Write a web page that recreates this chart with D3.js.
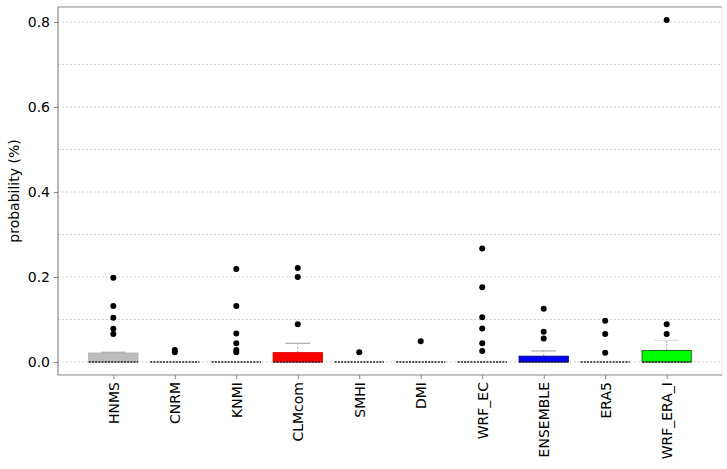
<!DOCTYPE html>
<html><head><meta charset="utf-8">
<script src="https://cdn.jsdelivr.net/npm/d3@7"></script>
<style>body{margin:0;background:#fff;} text{font-family:"DejaVu Sans",sans-serif;}</style>
</head><body>
<svg id="c" width="727" height="469"></svg>
<script>
const categories = ["HNMS","CNRM","KNMI","CLMcom","SMHI","DMI","WRF_EC","ENSEMBLE","ERA5","WRF_ERA_I"];
const boxColors = ["#bdbdbd","none","none","#ff0000","none","none","none","#0000ff","none","#00ff00"];
const boxStroke = ["#b0b0b0","none","none","#e00000","none","none","none","#00008b","none","#1a6b1a"];
const q1 = [0,0,0,0,0,0,0,0,0,0];
const medians = [0,0,0,0,0,0,0,0,0,0];
const q3 = [0.021,0,0,0.022,0,0,0,0.0135,0,0.027];
const whiskerHi = [0.023,0,0,0.044,0,0,0,0.026,0,0.051];
const outliers = [
  [0.198,0.132,0.104,0.078,0.066],
  [0.028,0.023],
  [0.219,0.132,0.067,0.044,0.028,0.023],
  [0.221,0.200,0.089],
  [0.023],
  [0.049],
  [0.267,0.176,0.105,0.079,0.044,0.026],
  [0.125,0.071,0.055],
  [0.097,0.066,0.022],
  [0.805,0.089,0.066]
];
const yTicks = [0,0.2,0.4,0.6,0.8];
const yGrid = [0,0.1,0.2,0.3,0.4,0.5,0.6,0.7,0.8];

const svg = d3.select("#c");
const L=58, R=722, T=7, B=375;
const x = d3.scaleLinear().domain([0.1,10.9]).range([L,R]);
const y = d3.scaleLinear().domain([-0.0306,0.8353]).range([B,T]);
const step = x(2)-x(1);
const bw = step*0.8, cw = step*0.4;

// grid
svg.append("g").selectAll("line").data(yGrid).join("line")
  .attr("x1",L).attr("x2",R).attr("y1",d=>y(d)).attr("y2",d=>y(d))
  .attr("stroke","#bbbbbb").attr("stroke-width",1).attr("stroke-dasharray","1.5,2.5");

// frame
svg.append("line").attr("x1",L).attr("x2",R).attr("y1",T).attr("y2",T).attr("stroke","#888").attr("stroke-width",1.2);
svg.append("line").attr("x1",R).attr("x2",R).attr("y1",T).attr("y2",B).attr("stroke","#e6e6e6").attr("stroke-width",1);

// axes
const yAxis = svg.append("g").attr("transform",`translate(${L},0)`)
  .call(d3.axisLeft(y).tickValues(yTicks).tickFormat(d3.format(".1f")).tickSize(4).tickPadding(4));
const xAxis = svg.append("g").attr("transform",`translate(0,${B})`)
  .call(d3.axisBottom(x).tickValues(d3.range(1,11)).tickFormat((d,i)=>categories[i]).tickSize(4));
[yAxis,xAxis].forEach(a=>{
  a.select(".domain").attr("stroke","#888").attr("stroke-width",1.2);
  a.selectAll(".tick line").attr("stroke","#888");
  a.selectAll("text").attr("fill","#000").style("font-size","14px").style("font-family","DejaVu Sans");
});
yAxis.select(".domain").attr("d",`M0,${T}V${B}`);
xAxis.select(".domain").attr("d",`M${L},0H${R}`);
xAxis.selectAll(".tick text").attr("transform","rotate(-90)").attr("text-anchor","end")
  .attr("x",-7).attr("y",0).attr("dy","0.35em");

// y label
svg.append("text").attr("transform",`translate(14,${(T+B)/2}) rotate(-90)`)
  .attr("text-anchor","middle").attr("dy","0.35em").style("font-size","14px").text("probability (%)");

// boxes
const g = svg.append("g");
categories.forEach((c,i)=>{
  const cx = x(i+1);
  // whisker
  if (whiskerHi[i] > q3[i]) {
    g.append("line").attr("x1",cx).attr("x2",cx).attr("y1",y(q3[i])).attr("y2",y(whiskerHi[i]))
      .attr("stroke","#999").attr("stroke-dasharray","2,2");
    g.append("line").attr("x1",cx-cw/2).attr("x2",cx+cw/2).attr("y1",y(whiskerHi[i])).attr("y2",y(whiskerHi[i]))
      .attr("stroke", i===9 ? "#ddd" : "#aaa").attr("stroke-width",1.2);
  }
  if (q3[i] > q1[i]) {
    g.append("rect").attr("x",cx-bw/2).attr("width",bw).attr("y",y(q3[i])).attr("height",y(q1[i])-y(q3[i]))
      .attr("fill",boxColors[i]).attr("stroke",boxStroke[i]).attr("stroke-width",1);
  }
  g.append("line").attr("x1",cx-bw/2).attr("x2",cx+bw/2).attr("y1",y(medians[i])).attr("y2",y(medians[i]))
    .attr("stroke","#222").attr("stroke-width",1.5).attr("stroke-dasharray","2,1.2");
  g.selectAll(null).data(outliers[i]).join("circle")
    .attr("cx",cx).attr("cy",d=>y(d)).attr("r",3).attr("fill","#000");
});
</script>
</body></html>
